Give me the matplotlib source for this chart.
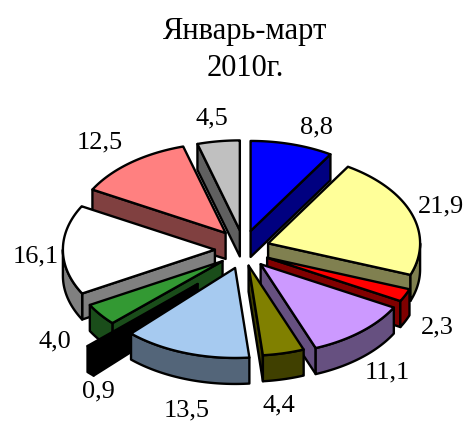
import numpy as np
import matplotlib
matplotlib.use('Agg')
import matplotlib.pyplot as plt
from matplotlib.patches import Polygon

plt.rcParams['font.family'] = ['Liberation Serif', 'DejaVu Serif']

values = [8.8, 21.9, 2.3, 11.1, 4.4, 13.5, 0.9, 4.0, 16.1, 12.5, 4.5]
labels = ['8,8', '21,9', '2,3', '11,1', '4,4', '13,5', '0,9', '4,0', '16,1', '12,5', '4,5']
top_colors = ['#0000FF', '#FFFF99', '#FF0000', '#CC99FF', '#808000', '#A6CAF0',
              '#000000', '#339933', '#FFFFFF', '#FF8080', '#C0C0C0']
side_colors = ['#000080', '#808050', '#800000', '#665080', '#404000', '#536579',
               '#000000', '#1A4D1A', '#808080', '#804040', '#606060']
explode = [1, 1, 1, 1, 0.85, 1, 2.5, 1, 1.1, 1.1, 1]
label_x = [316, 441, 437, 387, 279, 187, 98, 55, 36, 100, 212]
label_y = [127, 206, 327, 372, 405, 410, 391, 341, 256, 142, 118]
draw_order = [0, 10, 9, 1, 8, 7, 6, 2, 3, 4, 5]

cx, cy = 243.5, 249.6
rx, ry = 152, 90
ex, ey = 26, 19.4
depth = 26
lw = 1.7

fig = plt.figure(figsize=(4.65, 4.21), dpi=100)
ax = fig.add_axes([0, 0, 1, 1])
ax.set_xlim(0, 465)
ax.set_ylim(421, 0)
ax.axis('off')

ends = np.cumsum(values) / np.sum(values) * 2 * np.pi
starts = np.r_[0, ends[:-1]]


def point(a, x0, y0, drop=0):
    return [x0 + rx * np.sin(a), y0 - ry * np.cos(a) + drop]


def face(pts, color, z):
    ax.add_patch(Polygon(pts, closed=True, facecolor=color, edgecolor='black',
                         linewidth=lw, joinstyle='round', zorder=z))


for z, i in enumerate(draw_order):
    a1, a2 = starts[i], ends[i]
    mid = (a1 + a2) / 2
    x0 = cx + ex * explode[i] * np.sin(mid)
    y0 = cy - ey * explode[i] * np.cos(mid)
    base = z * 10

    # radial walls, only those turned towards the viewer
    if np.sin(a1) < 0:
        face([[x0, y0], point(a1, x0, y0), point(a1, x0, y0, depth), [x0, y0 + depth]],
             side_colors[i], base + 1)
    if np.sin(a2) > 0:
        face([[x0, y0], point(a2, x0, y0), point(a2, x0, y0, depth), [x0, y0 + depth]],
             side_colors[i], base + 1)

    # outer wall: lower half of the ellipse only
    lo, hi = max(a1, np.pi / 2), min(a2, 3 * np.pi / 2)
    if hi > lo:
        t = np.linspace(lo, hi, 60)
        upper = [point(a, x0, y0) for a in t]
        lower = [point(a, x0, y0, depth) for a in t[::-1]]
        face(upper + lower, side_colors[i], base + 2)

    t = np.linspace(a1, a2, 80)
    face([[x0, y0]] + [point(a, x0, y0) for a in t], top_colors[i], base + 3)

for x, y, s in zip(label_x, label_y, labels):
    ax.text(x, y, s, fontsize=19, ha='center', va='center', color='black')

ax.text(245, 32, 'Январь-март', fontsize=22, ha='center', va='center')
ax.text(245, 68, '2010г.', fontsize=22, ha='center', va='center')

fig.savefig('out.png', dpi=100, facecolor='white')
